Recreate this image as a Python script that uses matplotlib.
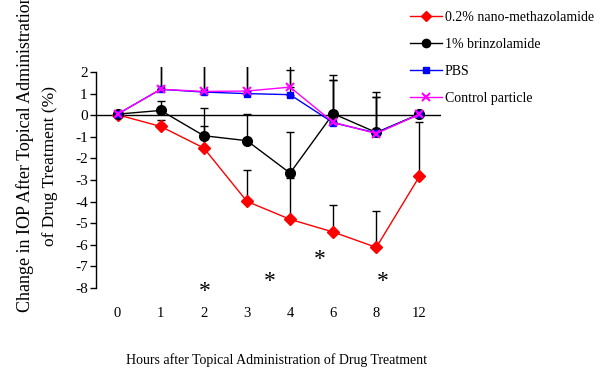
import matplotlib
matplotlib.use('Agg')
import matplotlib.pyplot as plt
import numpy as np

plt.rcParams['font.family'] = ['Liberation Serif', 'DejaVu Serif']
plt.rcParams['axes.unicode_minus'] = False

hours = ['0', '1', '2', '3', '4', '6', '8', '12']

nano = [0.02, -0.52, -1.52, -3.99, -4.82, -5.41, -6.12, -2.83]
brinz = [0.05, 0.22, -0.95, -1.18, -2.68, 0.07, -0.8, 0.05]
pbs = [0.05, 1.2, 1.07, 1.0, 0.95, -0.35, -0.82, 0.05]
control = [0.05, 1.2, 1.1, 1.12, 1.3, -0.33, -0.85, 0.05]

# top ends of the (upper only) error bars
nano_top = [0.02, -0.2, -0.49, -2.52, -2.9, -4.14, -4.45, -0.33]
brinz_top = [0.05, 0.64, 0.33, 0.05, -0.8, 1.84, 1.07, 0.05]
pbs_top = [0.05, 3.0, 3.0, 3.0, 3.0, 1.64, 0.84, 0.05]
control_top = [0.05, 3.0, 3.0, 3.0, 2.1, 1.64, 0.84, 0.05]

stars_x = [2.02, 3.52, 4.68, 6.16]
stars_y = [-7.93, -7.46, -6.46, -7.46]

fig = plt.figure(figsize=(6.02, 3.77), dpi=100)
ax = fig.add_axes([96/602, 89/377, 345/602, 221.4/377])

x = np.arange(len(hours))
series = [
    (nano, nano_top, 'red', 'D', 6, '0.2% nano-methazolamide'),
    (brinz, brinz_top, 'black', 'o', 7, '1% brinzolamide'),
    (pbs, pbs_top, 'blue', 's', 5, 'PBS'),
    (control, control_top, 'magenta', 'x', 6, 'Control particle'),
]

for vals, tops, col, mk, ms, lab in series:
    v = np.array(vals)
    up = np.array(tops) - v
    ax.errorbar(x, v, yerr=[np.zeros_like(v), up], fmt='none', ecolor='black',
                elinewidth=1, capsize=3, capthick=1, zorder=1)

ax.axhline(0, color='black', lw=1, zorder=2)

for vals, tops, col, mk, ms, lab in series:
    ax.plot(x, vals, color=col, marker=mk, markersize=ms, lw=1,
            markeredgewidth=1.5 if mk == 'x' else 1, label=lab, zorder=3)

for sx, sy in zip(stars_x, stars_y):
    ax.text(sx, sy - 0.22, '*', ha='center', va='center', fontsize=17, zorder=4)

ax.set_xlim(-0.5, 7.5)
ax.set_ylim(-8, 2.25)
ax.set_yticks(range(-8, 3))
ax.set_xticks(x)
ax.set_xticklabels(hours)
ax.tick_params(axis='x', length=0, pad=14, labelsize=10.5)
ax.tick_params(axis='y', length=4, width=1, direction='out', labelsize=11, pad=2)

for s in ['top', 'right', 'bottom']:
    ax.spines[s].set_visible(False)
ax.spines['left'].set_bounds(-8, 2)
ax.spines['left'].set_linewidth(1)

fig.text(25/602, 1 - 312/377, 'Change in IOP After Topical Administration',
         rotation=90, ha='center', va='bottom', fontsize=13)
fig.text(50/602, 1 - 166/377, 'of Drug Treatment (%)',
         rotation=90, ha='center', va='center', fontsize=12.5)
fig.text(276/602, 1 - 360/377, 'Hours after Topical Administration of Drug Treatment',
         ha='center', va='center', fontsize=10)

ax.legend(loc='upper left', bbox_to_anchor=(410/602, 1 - 11/377),
          bbox_transform=fig.transFigure, frameon=False, fontsize=10,
          handlelength=2.3, handletextpad=0.2, labelspacing=1.0, borderaxespad=0,
          borderpad=0, markerscale=0.85)

fig.savefig('out.png', dpi=100)
